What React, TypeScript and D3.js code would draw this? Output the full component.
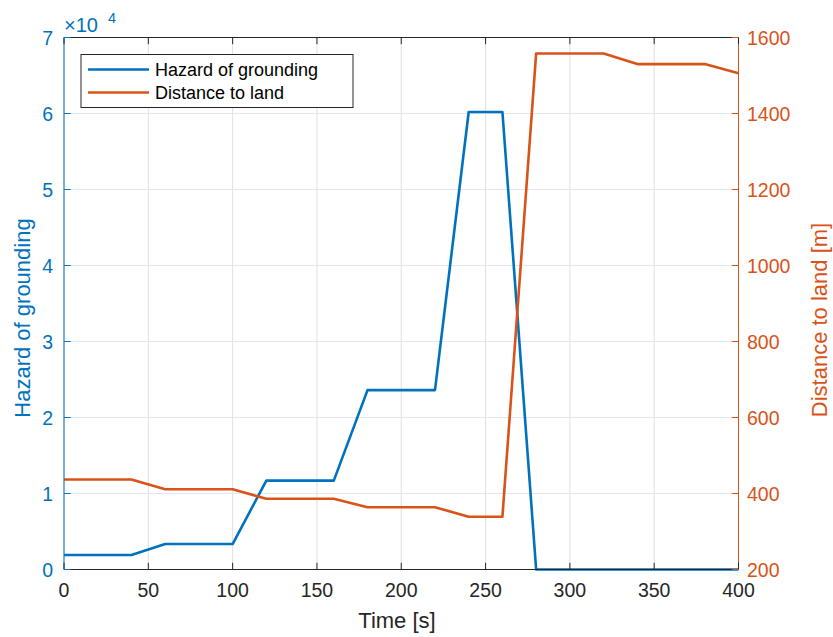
import React from "react";
import * as d3 from "d3";

const times = [0, 20, 40, 60, 80, 100, 120, 140, 160, 180, 200, 220, 240, 260, 280, 300, 320, 340, 360, 380, 400];
const hazard = [1900, 1900, 1900, 3350, 3350, 3350, 11700, 11700, 11700, 23600, 23600, 23600, 60200, 60200, 0, 0, 0, 0, 0, 0, 0];
const distance = [437, 437, 437, 411, 411, 411, 386, 386, 386, 364, 364, 364, 339, 339, 1558, 1558, 1558, 1530, 1530, 1530, 1506];
const xTicks = [0, 50, 100, 150, 200, 250, 300, 350, 400];
const leftTicks = [0, 1, 2, 3, 4, 5, 6, 7];
const rightTicks = [200, 400, 600, 800, 1000, 1200, 1400, 1600];
const seriesNames = ["Hazard of grounding", "Distance to land"];

const W = 833, H = 637;
const L = 64, R = 738.5, T = 37.5, B = 569.5;
const BLUE = "#0072BD", ORANGE = "#D95319", DARK = "#262626";
const FONT = "'Liberation Sans', Arial, Helvetica, sans-serif";

export default function App() {
  const x = d3.scaleLinear().domain([0, 400]).range([L, R]);
  const yL = d3.scaleLinear().domain([0, 70000]).range([B, T]);
  const yR = d3.scaleLinear().domain([200, 1600]).range([B, T]);
  const idx = times.map((_, i) => i);
  const hazLine = d3.line<number>().x(i => x(times[i])).y(i => yL(hazard[i]))(idx) || "";
  const distLine = d3.line<number>().x(i => x(times[i])).y(i => yR(distance[i]))(idx) || "";
  const tk = 6.7;
  return (
    <svg width={W} height={H} style={{ position: "absolute", left: 0, top: 0, fontFamily: FONT }}>
      <rect x={0} y={0} width={W} height={H} fill="#fff" />
      {xTicks.map(t => (
        <line key={"gx" + t} x1={x(t)} x2={x(t)} y1={T} y2={B} stroke="#dfdfdf" strokeWidth={1} />
      ))}
      {leftTicks.map(t => (
        <line key={"gy" + t} x1={L} x2={R} y1={yL(t * 10000)} y2={yL(t * 10000)} stroke="#e3e8f0" strokeWidth={1} />
      ))}
      <path d={hazLine} fill="none" stroke={BLUE} strokeWidth={2.6} strokeLinejoin="round" />
      <path d={distLine} fill="none" stroke={ORANGE} strokeWidth={2.6} strokeLinejoin="round" />
      <line x1={L} x2={R} y1={B} y2={B} stroke={DARK} strokeWidth={1} />
      <line x1={L} x2={R} y1={T} y2={T} stroke={DARK} strokeWidth={1} />
      <line x1={L} x2={L} y1={T} y2={B} stroke={BLUE} strokeWidth={1} />
      <line x1={R} x2={R} y1={T} y2={B} stroke={ORANGE} strokeWidth={1} />
      {xTicks.map(t => (
        <g key={"xt" + t}>
          <line x1={x(t)} x2={x(t)} y1={B} y2={B - tk} stroke={DARK} />
          <line x1={x(t)} x2={x(t)} y1={T} y2={T + tk} stroke={DARK} />
          <text x={x(t)} y={597} textAnchor="middle" fontSize={19.5} fill={DARK}>{t}</text>
        </g>
      ))}
      {leftTicks.map(t => (
        <g key={"lt" + t}>
          <line x1={L} x2={L + tk} y1={yL(t * 10000)} y2={yL(t * 10000)} stroke={BLUE} />
          <text x={53} y={yL(t * 10000) + 7} textAnchor="end" fontSize={19.5} fill={BLUE}>{t}</text>
        </g>
      ))}
      {rightTicks.map(t => (
        <g key={"rt" + t}>
          <line x1={R} x2={R - tk} y1={yR(t)} y2={yR(t)} stroke={ORANGE} />
          <text x={747} y={yR(t) + 7} textAnchor="start" fontSize={19.5} fill={ORANGE}>{t}</text>
        </g>
      ))}
      <text x={64} y={32} fontSize={20} fill={BLUE}>×10</text>
      <text x={108} y={23} fontSize={14.5} fill={BLUE}>4</text>
      <text x={397} y={628} textAnchor="middle" fontSize={22} fill={DARK}>Time [s]</text>
      <text transform="translate(30,318) rotate(-90)" textAnchor="middle" fontSize={22} fill={BLUE}>Hazard of grounding</text>
      <text transform="translate(827,320) rotate(-90)" textAnchor="middle" fontSize={22} fill={ORANGE}>Distance to land [m]</text>
      <rect x={81} y={54.5} width={272} height={53} fill="#fff" stroke={DARK} strokeWidth={1} />
      {seriesNames.map((n, i) => (
        <g key={n}>
          <line x1={88} x2={149} y1={69.5 + i * 23} y2={69.5 + i * 23} stroke={i === 0 ? BLUE : ORANGE} strokeWidth={2.6} />
          <text x={155} y={69.5 + i * 23 + 6.3} fontSize={18} fill="#000">{n}</text>
        </g>
      ))}
    </svg>
  );
}
